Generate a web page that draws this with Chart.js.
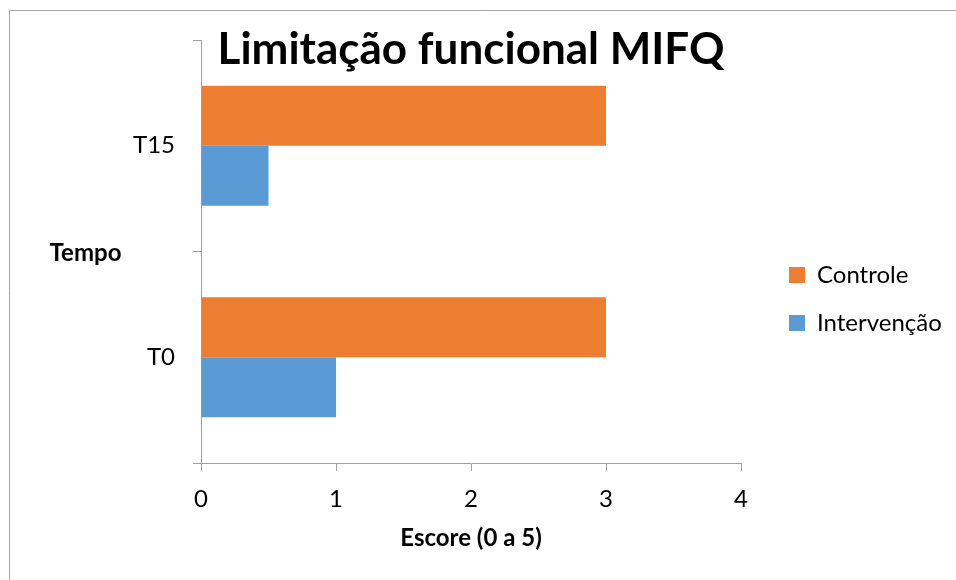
<!DOCTYPE html>
<html>
<head>
<meta charset="utf-8">
<script src="https://cdn.jsdelivr.net/npm/chart.js@4"></script>
<style>
  html, body { margin: 0; padding: 0; background: #ffffff; }
  #wrap { width: 956px; height: 580px; }
</style>
</head>
<body>
<div id="wrap"><canvas id="c" width="956" height="580"></canvas></div>
<script>
// Data
const categories = ['T0', 'T15'];
const seriesNames = ['Controle', 'Intervenção'];
const controleValues = [3, 3];
const intervencaoValues = [1, 0.5];
const xTickValues = [0, 1, 2, 3, 4];

const chartTitle = 'Limitação funcional MIFQ';
const xAxisTitle = 'Escore (0 a 5)';
const yAxisTitle = 'Tempo';

const FONT = 'Lato, "Open Sans", sans-serif';
const AXIS_GREY = '#a0a0a0';

// Thin frame along the left and top edges
const framePlugin = {
  id: 'frame',
  beforeDraw(chart) {
    const ctx = chart.ctx;
    ctx.save();
    ctx.strokeStyle = '#a6a6a6';
    ctx.lineWidth = 1;
    ctx.beginPath();
    ctx.moveTo(9.5, chart.height);
    ctx.lineTo(9.5, 10.5);
    ctx.lineTo(chart.width, 10.5);
    ctx.stroke();
    ctx.restore();
  }
};

// Horizontal (unrotated) title for the category axis
const yTitlePlugin = {
  id: 'yTitle',
  afterDraw(chart) {
    const ctx = chart.ctx;
    ctx.save();
    ctx.font = 'bold 24px ' + FONT;
    ctx.fillStyle = '#000000';
    ctx.textAlign = 'center';
    ctx.textBaseline = 'alphabetic';
    ctx.fillText(yAxisTitle, 85.5, 261);
    ctx.restore();
  }
};

// Place the legend block to the right of the plot
const legendPlacePlugin = {
  id: 'legendPlace',
  afterLayout(chart) {
    const lg = chart.legend;
    if (!lg) return;
    const pad = lg.options.labels.padding;
    const w = lg.right - lg.left;
    const h = lg.bottom - lg.top;
    lg.left = 789 - pad;
    lg.right = lg.left + w;
    lg.top = 263 - pad;
    lg.bottom = lg.top + h;
  }
};

const cfg = {
  type: 'bar',
  data: {
    labels: categories,
    datasets: [
      {
        label: seriesNames[0],
        data: controleValues,
        backgroundColor: '#ED7D31',
        borderWidth: 0,
        categoryPercentage: 0.567,
        barPercentage: 1
      },
      {
        label: seriesNames[1],
        data: intervencaoValues,
        backgroundColor: '#5B9BD5',
        borderWidth: 0,
        categoryPercentage: 0.567,
        barPercentage: 1
      }
    ]
  },
  options: {
    indexAxis: 'y',
    responsive: false,
    animation: false,
    devicePixelRatio: 1,
    layout: { padding: { left: 0, right: 0, top: 0, bottom: 0 } },
    scales: {
      x: {
        type: 'linear',
        min: 0,
        max: 4,
        afterBuildTicks(scale) {
          scale.ticks = xTickValues.map(v => ({ value: v }));
        },
        ticks: {
          color: '#000000',
          font: { family: FONT, size: 24 },
          padding: 14
        },
        grid: {
          display: true,
          drawOnChartArea: false,
          drawTicks: true,
          tickLength: 8,
          color: AXIS_GREY,
          lineWidth: 1
        },
        border: { display: true, color: AXIS_GREY, width: 1 },
        title: {
          display: true,
          text: xAxisTitle,
          color: '#000000',
          font: { family: FONT, size: 24, weight: 'bold' },
          padding: { top: 0, bottom: 27 }
        },
        afterFit(scale) { scale.height = 117; }
      },
      y: {
        type: 'category',
        reverse: true,
        ticks: {
          color: '#000000',
          font: { family: FONT, size: 24 },
          padding: 18
        },
        grid: {
          display: true,
          drawOnChartArea: false,
          drawTicks: true,
          tickLength: 8,
          color: AXIS_GREY,
          lineWidth: 1
        },
        border: { display: true, color: AXIS_GREY, width: 1 },
        afterFit(scale) { scale.width = 201; }
      }
    },
    plugins: {
      title: {
        display: true,
        fullSize: false,
        text: chartTitle,
        color: '#000000',
        font: { family: FONT, size: 44, weight: 'bold' },
        padding: { top: 23, bottom: -35.8 }
      },
      legend: {
        position: 'right',
        align: 'start',
        labels: {
          color: '#000000',
          font: { family: FONT, size: 24 },
          boxWidth: 16,
          boxHeight: 16,
          padding: 24
        }
      },
      tooltip: { enabled: false }
    }
  },
  plugins: [framePlugin, yTitlePlugin, legendPlacePlugin]
};

const chart = new Chart(document.getElementById('c'), cfg);
// Keep the plot's right edge at 741px regardless of legend width
const diff = chart.chartArea.right - 741;
if (Math.abs(diff) > 0.5) {
  chart.options.layout.padding.right = diff;
  chart.update();
}
</script>
</body>
</html>
